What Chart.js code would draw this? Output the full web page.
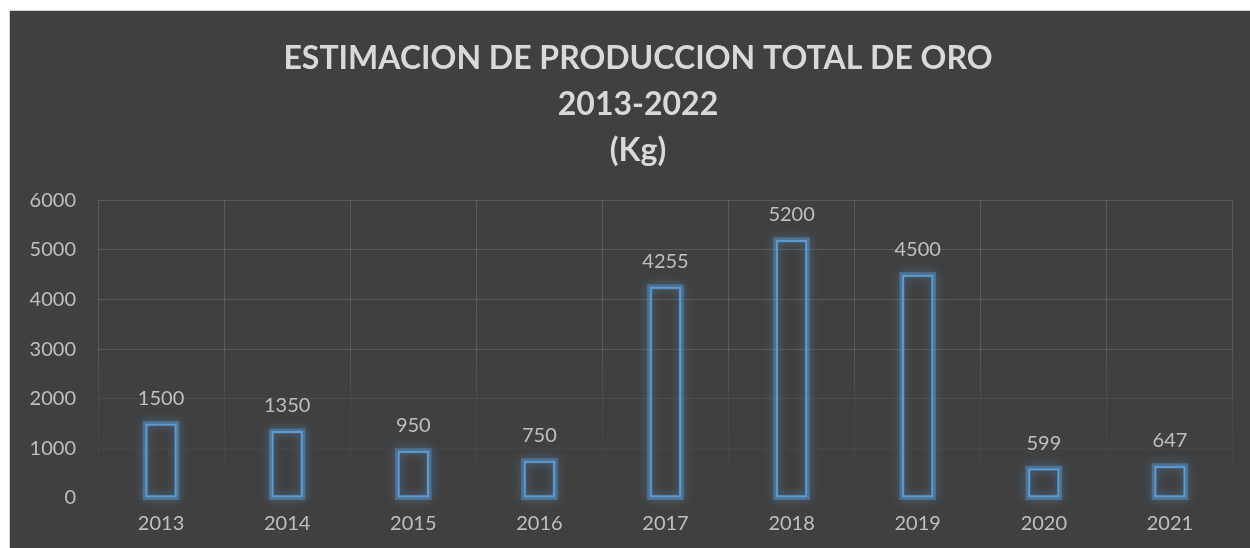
<!DOCTYPE html>
<html>
<head>
<meta charset="utf-8">
<script src="https://cdn.jsdelivr.net/npm/chart.js@4.4.1/dist/chart.umd.min.js"></script>
<style>
    html, body { margin: 0; padding: 0; background: #ffffff; }
    .cadre {
        position: absolute;
        left: 9px; top: 10px;
        width: 1241px; height: 538px;
        background: #404040;
        border-left: 1px solid #d0d0d0;
        border-top: 1px solid #d0d0d0;
        box-sizing: border-box;
    }
</style>
</head>
<body>
<div class="cadre"><canvas id="oroChart"></canvas></div>
<script>
const anios = ["2013", "2014", "2015", "2016", "2017", "2018", "2019", "2020", "2021"];
const produccion = [1500, 1350, 950, 750, 4255, 5200, 4500, 599, 647];
const ticksY = [0, 1000, 2000, 3000, 4000, 5000, 6000];
const titulo = ["ESTIMACION DE PRODUCCION TOTAL DE ORO", "2013-2022", "(Kg)"];

const fuente = "Lato, 'Open Sans', sans-serif";
const gris = "#bfbfbf";

// degrade de la grille : visible en haut, presque invisible en bas
let gradGrille = null;
function couleurGrille(ctx) {
    const area = ctx.chart.chartArea;
    if (!area) return "rgba(255,255,255,0.1)";
    if (!gradGrille) {
        gradGrille = ctx.chart.ctx.createLinearGradient(0, area.top, 0, area.bottom);
        gradGrille.addColorStop(0, "rgba(255,255,255,0.13)");
        gradGrille.addColorStop(0.5, "rgba(255,255,255,0.12)");
        gradGrille.addColorStop(0.67, "rgba(255,255,255,0.06)");
        gradGrille.addColorStop(0.84, "rgba(255,255,255,0.03)");
        gradGrille.addColorStop(1, "rgba(255,255,255,0.01)");
    }
    return gradGrille;
}

// l'axe Y est etroit (padding gauche pour centrer le titre) : on elargit sa zone de dessin
const axeLarge = {
    id: "axeLarge",
    afterLayout(chart) {
        chart.scales.y.left = 0;
    }
};

// halo bleu autour des barres
const halo = {
    id: "halo",
    beforeDatasetsDraw(chart) {
        const c = chart.ctx;
        c.save();
        c.shadowColor = "rgba(91,155,213,1)";
        c.shadowBlur = 10;
        c.strokeStyle = "rgba(91,155,213,0.45)";
        c.lineWidth = 5;
        chart.getDatasetMeta(0).data.forEach(bar => {
            const p = bar.getProps(["x", "y", "base", "width"], true);
            c.strokeRect(p.x - p.width / 2, p.y, p.width, p.base - p.y);
        });
        c.restore();
    }
};

const etiquetas = {
    id: "etiquetas",
    afterDatasetsDraw(chart) {
        const c = chart.ctx;
        const meta = chart.getDatasetMeta(0);
        c.save();
        c.font = "20px " + fuente;
        c.fillStyle = gris;
        c.textAlign = "center";
        c.textBaseline = "middle";
        meta.data.forEach((bar, i) => {
            c.fillText(produccion[i], bar.x, bar.y - 25);
        });
        c.restore();
    }
};

new Chart(document.getElementById("oroChart"), {
    type: "bar",
    data: {
        labels: anios,
        datasets: [{
            data: produccion,
            backgroundColor: "rgba(0,0,0,0)",
            borderColor: "#5b9bd5",
            borderWidth: 2,
            borderSkipped: false,
            barPercentage: 0.25,
            categoryPercentage: 1
        }]
    },
    options: {
        responsive: true,
        maintainAspectRatio: false,
        animation: false,
        layout: { padding: { left: 33, right: 17, top: 0, bottom: 0 } },
        plugins: {
            legend: { display: false },
            tooltip: { enabled: false },
            title: {
                display: true,
                text: titulo,
                color: "#d9d9d9",
                font: { family: fuente, size: 32, weight: "bold", lineHeight: 1.45 },
                padding: { top: 24, bottom: 26 }
            }
        },
        scales: {
            x: {
                afterFit: axis => { axis.height = 50; },
                grid: { color: couleurGrille, drawTicks: false, offset: true },
                border: { display: false },
                ticks: { color: gris, font: { family: fuente, size: 20 }, padding: 14 }
            },
            y: {
                min: 0,
                max: 6000,
                afterBuildTicks: axis => { axis.ticks = ticksY.map(v => ({ value: v })); },
                afterFit: axis => { axis.width = 55; },
                grid: { color: couleurGrille, drawTicks: false },
                border: { display: false },
                ticks: {
                    color: gris,
                    font: { family: fuente, size: 20 },
                    padding: 22,
                    callback: v => String(v)
                }
            }
        }
    },
    plugins: [axeLarge, halo, etiquetas]
});
</script>
</body>
</html>
